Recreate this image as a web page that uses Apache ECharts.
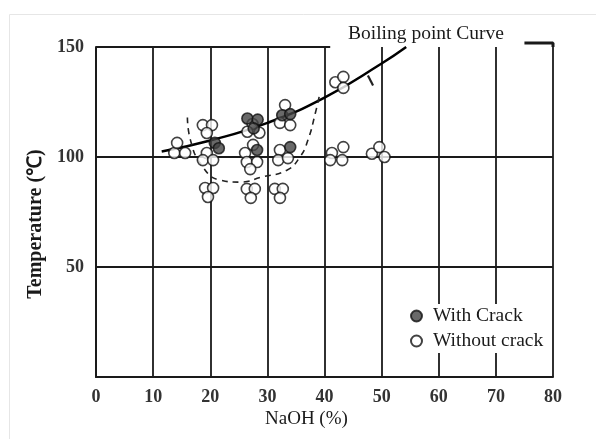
<!DOCTYPE html>
<html>
<head>
<meta charset="utf-8">
<script src="https://cdn.jsdelivr.net/npm/echarts@6/dist/echarts.min.js"></script>
<style>
  html, body { margin: 0; padding: 0; background: #fff; }
  #box { width: 596px; height: 439px; }
</style>
</head>
<body>
<div id="box"></div>
<script>
// x ticks and y ticks
var xTicks = [0, 10, 20, 30, 40, 50, 60, 70, 80];
var yTicks = [0, 50, 100, 150];

// samples without crack [NaOH %, temperature]
var withoutCrack = [
  [13.7, 101.8], [15.6, 101.8], [14.2, 106.4],
  [18.7, 114.5], [20.3, 114.5], [19.4, 110.9],
  [19.4, 101.8], [18.7, 98.6], [20.5, 98.6],
  [19.1, 85.9], [20.5, 85.9], [19.6, 81.8],
  [27.4, 115], [26.5, 111.5], [28.6, 111],
  [26.1, 101.8], [27.5, 105.5], [26.4, 97.7], [28.2, 97.7], [27, 94.5],
  [26.4, 85.5], [27.8, 85.5], [27.1, 81.4],
  [33.1, 123.6], [32.2, 115.5], [34, 114.5],
  [32.2, 103.2], [31.9, 98.6], [33.6, 99.5],
  [31.3, 85.5], [32.7, 85.5], [32.2, 81.4],
  [41.9, 134], [43.3, 136.4], [43.3, 131.4],
  [41.3, 101.8], [43.3, 104.5], [41, 98.6], [43.1, 98.6],
  [48.3, 101.5], [49.6, 104.5], [50.5, 100]
];
// samples with crack
var withCrack = [
  [20.8, 106.4], [21.5, 104], [26.5, 117.5], [28.3, 117], [27.6, 113],
  [32.6, 119], [34, 119.5], [28.2, 103.2], [34, 104.5]
];
// boiling point curve
var boilingCurve = [[11.5, 102.5], [20, 107.5], [30, 115.5], [40, 127], [50, 142.5], [54.3, 150]];
// dashed boundary of crack region
var crackBoundary = [
  [16, 118], [16.5, 108], [18.7, 95.5], [21.7, 89.5], [25.2, 88.6], [29.2, 91],
  [33.4, 94], [35.7, 100], [37.1, 107.7], [38.4, 120], [39.2, 129]
];
var crackDash = [[47.6, 137], [48.5, 132.5]];
// pieces of the top frame line at 150
var topLeft = [[0, 150], [41, 150]];
var topRight = [[75, 151.8], [80, 151.8], [80, 150]];

var myChart = echarts.init(document.getElementById('box'));
var serif = '"Liberation Serif", "Times New Roman", serif';
var ink = '#1a1a1a';

var option = {
  animation: false,
  graphic: [{
    type: 'rect', left: 7, top: 12,
    shape: { width: 620, height: 500 },
    style: { fill: 'none', stroke: '#e6e6e6', lineWidth: 1 },
    z: -1
  }, {
    type: 'text', left: 265, top: 410,
    style: { text: 'NaOH (%)', font: '19px ' + serif, fill: ink }
  }],
  title: {
    text: 'Boiling point Curve',
    left: 343, top: 19,
    textStyle: { fontFamily: serif, fontSize: 19.5, fontWeight: 'normal', color: ink }
  },
  legend: {
    orient: 'vertical',
    left: 410, top: 304,
    itemWidth: 11, itemHeight: 11, itemGap: 5,
    backgroundColor: '#fff',
    padding: [2, 4, 2, 0],
    textStyle: { fontFamily: serif, fontSize: 19.5, color: ink, padding: [0, 0, 0, 6] },
    data: [
      { name: 'With Crack', icon: 'circle' },
      { name: 'Without crack', icon: 'circle' }
    ]
  },
  grid: { left: 96, right: 43, top: 47, bottom: 62 },
  xAxis: {
    type: 'value', min: 0, max: 80, interval: 10,
    axisLine: { show: true, lineStyle: { color: ink, width: 2 } },
    axisTick: { show: false },
    axisLabel: {
      margin: 11, fontFamily: serif, fontSize: 18, fontWeight: 'bold', color: '#333',
      formatter: function (v) { return xTicks.indexOf(v) >= 0 ? String(v) : ''; }
    },
    splitLine: { show: true, lineStyle: { color: ink, width: 1.8 } }
  },
  yAxis: {
    type: 'value', min: 0, max: 150, interval: 50,
    name: 'Temperature (℃)', nameLocation: 'middle', nameGap: 47,
    nameTextStyle: { fontFamily: serif, fontSize: 20, fontWeight: 'bold', color: ink, padding: [0, 0, 0, -24] },
    axisLine: { show: true, lineStyle: { color: ink, width: 2 } },
    axisTick: { show: false },
    axisLabel: {
      margin: 12, fontFamily: serif, fontSize: 18, fontWeight: 'bold', color: '#333',
      formatter: function (v) { return (v === 0 || yTicks.indexOf(v) < 0) ? '' : String(v); }
    },
    splitLine: { show: true, lineStyle: { color: ['transparent', ink, ink, 'transparent'], width: 1.8 } }
  },
  series: [
    {
      name: 'top', type: 'line', data: topLeft, symbol: 'none', silent: true,
      lineStyle: { color: ink, width: 2 }
    },
    {
      name: 'top2', type: 'line', data: topRight, symbol: 'none', silent: true, clip: false,
      lineStyle: { color: ink, width: 3 }
    },
    {
      name: 'Boiling point Curve', type: 'line', data: boilingCurve, smooth: true,
      symbol: 'none', lineStyle: { color: '#000', width: 2.5 }, z: 3
    },
    {
      name: 'boundary', type: 'line', data: crackBoundary, smooth: true,
      symbol: 'none', lineStyle: { color: '#222', width: 1.6, type: [6, 5] }, z: 3
    },
    {
      name: 'dash', type: 'line', data: crackDash,
      symbol: 'none', lineStyle: { color: '#222', width: 2.2 }, z: 3
    },
    {
      name: 'Without crack', type: 'scatter', data: withoutCrack,
      symbol: 'circle', symbolSize: 11,
      itemStyle: { color: '#fff', borderColor: '#111', borderWidth: 1.6 }, z: 4
    },
    {
      name: 'With Crack', type: 'scatter', data: withCrack,
      symbol: 'circle', symbolSize: 11,
      itemStyle: { color: '#444', borderColor: '#111', borderWidth: 1.6 }, z: 5
    }
  ]
};

myChart.setOption(option);
window.addEventListener('resize', function () {
  myChart.resize();
});
</script>
</body>
</html>
